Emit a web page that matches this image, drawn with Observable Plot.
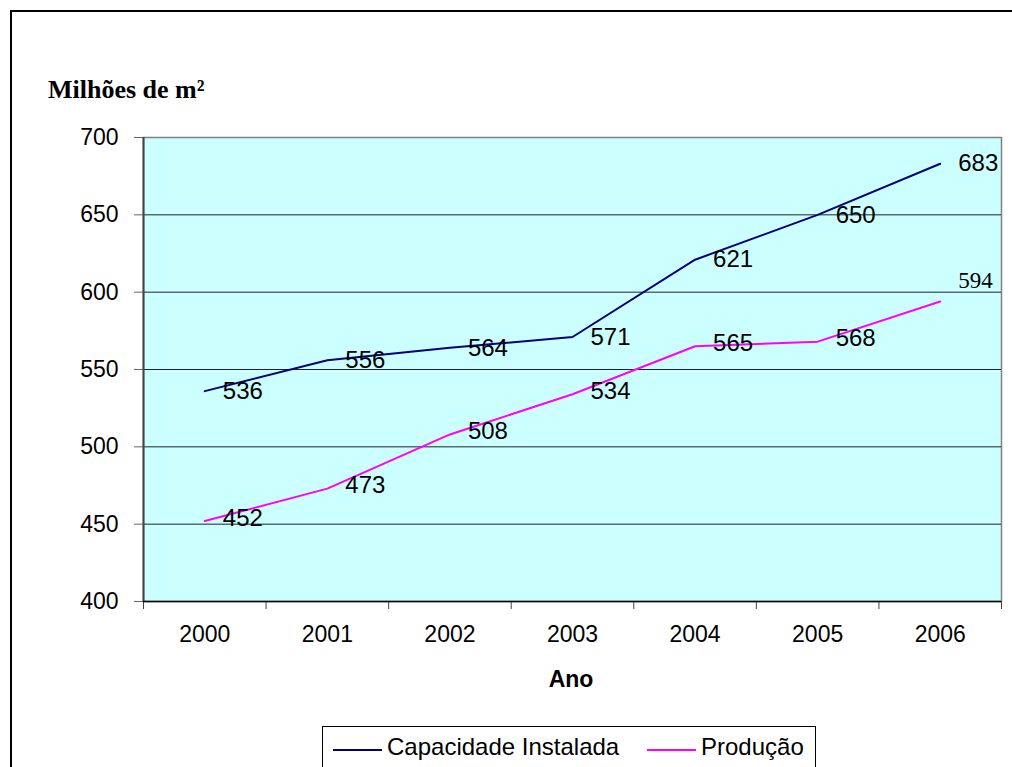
<!DOCTYPE html>
<html>
<head>
<meta charset="utf-8">
<script src="https://cdn.jsdelivr.net/npm/d3@7"></script>
<script src="https://cdn.jsdelivr.net/npm/@observablehq/plot@0.6"></script>
<style>
  html, body { margin: 0; padding: 0; background: #fff; }
  body { width: 1012px; height: 767px; position: relative; overflow: hidden; font-family: "Liberation Sans", Arial, sans-serif; }
  #frame { position: absolute; left: 10px; top: 10px; width: 1020px; height: 780px; border: 2px solid #000; box-sizing: border-box; }
  #chart { position: absolute; left: 0; top: 0; }
  #ytitle { position: absolute; left: 48px; top: 77px; font: bold 26px/26px "Liberation Serif", "Times New Roman", serif; color: #000; white-space: nowrap; }
  #xtitle { position: absolute; left: 471px; width: 200px; top: 666px; text-align: center; font: bold 23px/26px "Liberation Sans", Arial, sans-serif; color: #000; }
  #legend { position: absolute; left: 322px; top: 726px; width: 494px; height: 60px; border: 1px solid #000; box-sizing: border-box; background: #fff; }
  .key { position: absolute; top: 0; height: 40px; display: flex; align-items: center; font-size: 24px; color: #000; white-space: nowrap; }
  .swatch { display: inline-block; width: 49px; height: 0; border-top: 2px solid; margin-right: 5px; position: relative; top: 3px; }
</style>
</head>
<body>
<div id="chart"></div>
<div id="frame"></div>
<div id="ytitle">Milhões de m²</div>
<div id="xtitle">Ano</div>
<div id="legend"></div>
<script>
// Ceramic tile industry: installed capacity vs. production, millions of m²
const years = [2000, 2001, 2002, 2003, 2004, 2005, 2006];
const capacidade = [536, 556, 564, 571, 621, 650, 683];
const producao = [452, 473, 508, 534, 565, 568, 594];
const yTicks = [400, 450, 500, 550, 600, 650, 700];

const seriesNames = ["Capacidade Instalada", "Produção"];
const seriesColors = ["#000080", "#FF00FF"];

const rows = [
  ...years.map((ano, i) => ({ano, valor: capacidade[i], serie: seriesNames[0]})),
  ...years.map((ano, i) => ({ano, valor: producao[i], serie: seriesNames[1]}))
];

// category boundaries for the x-axis tick marks
const bounds = d3.range(years.length + 1).map(i => years[0] - 0.5 + i);

const cap = rows.filter(d => d.serie === seriesNames[0]);
const prod = rows.filter(d => d.serie === seriesNames[1]);
const prodLast = prod[prod.length - 1];

const chart = Plot.plot({
  width: 1012,
  height: 660,
  marginLeft: 143,
  marginRight: 11,
  marginTop: 137,
  marginBottom: 59,
  style: {background: "none", fontFamily: "'Liberation Sans', Arial, sans-serif", color: "#000"},
  x: {type: "linear", domain: [bounds[0], bounds[bounds.length - 1]]},
  y: {domain: [400, 700]},
  marks: [
    Plot.frame({fill: "#CCFFFF", stroke: "#808080", strokeWidth: 1.5}),
    Plot.ruleY(yTicks.slice(1, -1), {stroke: "#222", strokeWidth: 1}),
    Plot.axisY({ticks: yTicks, tickSize: 9, tickPadding: 16, fontSize: 23, stroke: "#666", label: null, tickFormat: d => String(d)}),
    Plot.axisX({ticks: bounds, tickSize: 8, tickFormat: () => "", stroke: "#444", label: null}),
    Plot.axisX({ticks: years, tickSize: 0, tickPadding: 24, fontSize: 23, label: null, tickFormat: d => String(d)}),
    Plot.ruleX([bounds[0]], {stroke: "#444", strokeWidth: 2}),
    Plot.ruleY([400], {stroke: "#000", strokeWidth: 1.5}),
    Plot.line(rows, {x: "ano", y: "valor", z: "serie", stroke: "serie", strokeWidth: 2}),
    Plot.text(cap, {x: "ano", y: "valor", text: d => String(d.valor), textAnchor: "start", dx: 18, dy: 0, fontSize: 24, fill: "#000"}),
    Plot.text(prod.slice(0, -1), {x: "ano", y: "valor", text: d => String(d.valor), textAnchor: "start", dx: 18, dy: -3, fontSize: 24, fill: "#000"}),
    Plot.text([prodLast], {x: "ano", y: "valor", text: d => String(d.valor), textAnchor: "start", dx: 18, dy: -21, fontSize: 23, fontFamily: "'Liberation Serif', 'Times New Roman', serif", fill: "#000"})
  ],
  color: {domain: seriesNames, range: seriesColors}
});
document.getElementById("chart").appendChild(chart);

// legend
const legend = document.getElementById("legend");
const keyLeft = [10, 324];
seriesNames.forEach((name, i) => {
  const k = document.createElement("div");
  k.className = "key";
  k.style.left = keyLeft[i] + "px";
  const sw = document.createElement("span");
  sw.className = "swatch";
  sw.style.borderTopColor = seriesColors[i];
  k.appendChild(sw);
  k.appendChild(document.createTextNode(name));
  legend.appendChild(k);
});
</script>
</body>
</html>
